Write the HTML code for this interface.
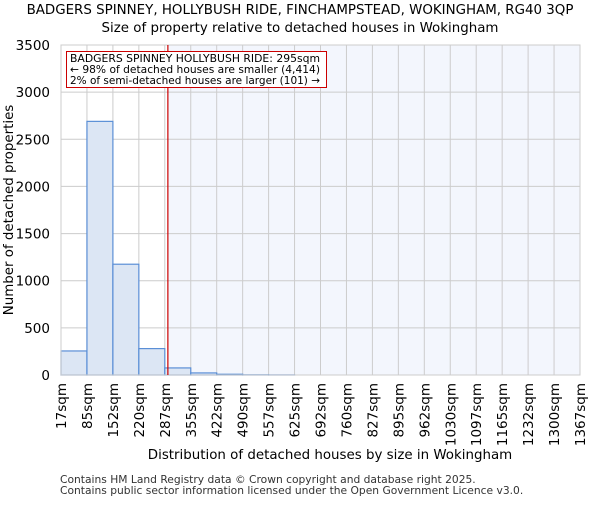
<!DOCTYPE html>
<html><head><meta charset="utf-8"><style>body{margin:0;background:#fff}svg{font-family:"DejaVu Sans","Liberation Sans",sans-serif}</style></head>
<body>
<svg id="c" width="600" height="500" xmlns="http://www.w3.org/2000/svg"></svg>
<script>
const categories=["17sqm","85sqm","152sqm","220sqm","287sqm","355sqm","422sqm","490sqm","557sqm","625sqm","692sqm","760sqm","827sqm","895sqm","962sqm","1030sqm","1097sqm","1165sqm","1232sqm","1300sqm","1367sqm"];
const counts=[255,2690,1175,280,75,22,8,2,1,0,0,0,0,0,0,0,0,0,0,0];
const yTicks=[0,500,1000,1500,2000,2500,3000,3500];
const propertySize=295;
const binStart=17, binWidth=67.5;
const L=61,R=580,T=45,B=375;
const nb=counts.length;
const x=i=>L+(R-L)*i/nb;
const xv=v=>L+(R-L)*(v-binStart)/(binWidth*nb);
const y=v=>B-(B-T)*v/3500;
const s=document.getElementById('c');const NS="http://www.w3.org/2000/svg";
function el(t,a,txt){const e=document.createElementNS(NS,t);for(const k in a)e.setAttribute(k,a[k]);if(txt!==undefined)e.textContent=txt;s.appendChild(e);return e;}
let e;
e=el('text',{x:300,y:14,'text-anchor':'middle','font-size':13.4},'BADGERS SPINNEY, HOLLYBUSH RIDE, FINCHAMPSTEAD, WOKINGHAM, RG40 3QP');

e=el('text',{x:300,y:32,'text-anchor':'middle','font-size':13.4},'Size of property relative to detached houses in Wokingham');

const px=xv(propertySize);
e=el('rect',{x:px,y:T,width:R-px,height:B-T,fill:'#f3f6fd'});

for(const t of yTicks){
 e=el('line',{x1:L,x2:R,y1:y(t),y2:y(t),stroke:'#cccccc'});
 
 e=el('text',{x:L-11,y:y(t)+5,'text-anchor':'end','font-size':13.5},String(t));
 
}
categories.forEach((c,i)=>{
 e=el('line',{x1:x(i),x2:x(i),y1:T,y2:B,stroke:'#cccccc'});
 
 e=el('text',{transform:`translate(${x(i)+5},${B+8}) rotate(-90)`,'text-anchor':'end','font-size':13.5},c);
 
});
counts.forEach((v,i)=>{
 if(v<=0)return;
 e=el('rect',{x:x(i),y:y(v),width:x(i+1)-x(i),height:B-y(v),fill:'#dce6f4',stroke:'#5b8fd6','stroke-width':1.2});
 
});
e=el('rect',{x:L,y:T,width:R-L,height:B-T,fill:'none',stroke:'#cccccc'});

e=el('line',{x1:px,x2:px,y1:T,y2:B,stroke:'#cc0000','stroke-width':1.2});

e=el('rect',{x:66.5,y:51.5,width:260,height:36,fill:'#fff',stroke:'#cc0000'});

[['BADGERS SPINNEY HOLLYBUSH RIDE: 295sqm',62],['← 98% of detached houses are smaller (4,414)',73],['2% of semi-detached houses are larger (101) →',84]].forEach(([t,yy])=>{
 e=el('text',{x:70,y:yy,'font-size':10.6,textLength:250,lengthAdjust:'spacingAndGlyphs'},t);
 
});
e=el('text',{transform:'translate(13,210) rotate(-90)','text-anchor':'middle','font-size':13.4},'Number of detached properties');

e=el('text',{x:330,y:459,'text-anchor':'middle','font-size':13.4},'Distribution of detached houses by size in Wokingham');

e=el('text',{x:60,y:483,'font-size':10.7,fill:'#333'},'Contains HM Land Registry data © Crown copyright and database right 2025.');

e=el('text',{x:60,y:494,'font-size':10.7,fill:'#333'},'Contains public sector information licensed under the Open Government Licence v3.0.');

</script>
</body></html>
